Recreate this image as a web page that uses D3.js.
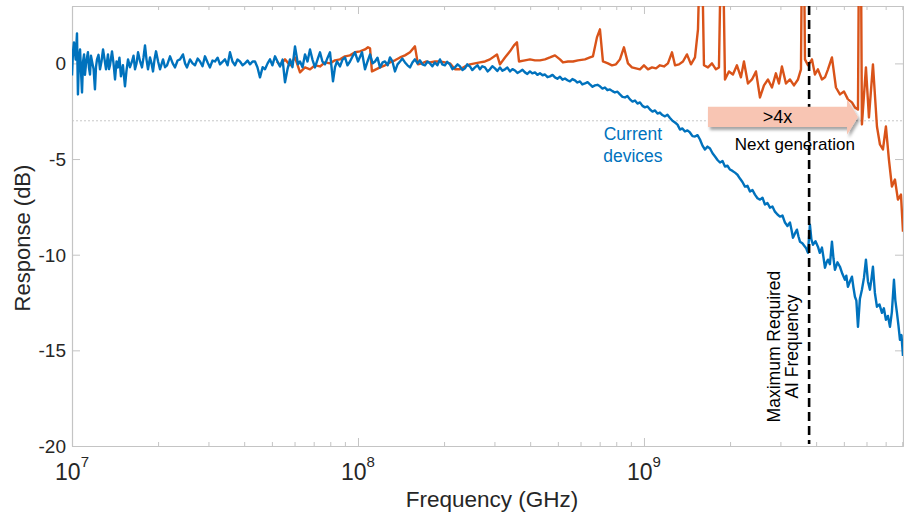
<!DOCTYPE html>
<html><head><meta charset="utf-8">
<script src="https://cdn.jsdelivr.net/npm/d3@7"></script>
<style>
html,body{margin:0;padding:0;background:#fff;}
svg{display:block;font-family:"Liberation Sans",Arial,Helvetica,sans-serif;}
</style></head><body>
<svg id="chart" width="904" height="519"></svg>
<script>
// ---------- data ----------
const xDomain = [1e7, 8.05e9];
const yDomain = [-20, 3];
const xTicks = [1e7, 1e8, 1e9];
const xTickBase = "10";
const xTickExponents = ["7", "8", "9"];
const xMinorTicks = [2e7,3e7,4e7,5e7,6e7,7e7,8e7,9e7,2e8,3e8,4e8,5e8,6e8,7e8,8e8,9e8,2e9,3e9,4e9,5e9,6e9,7e9,8e9];
const yTicks = [0, -5, -10, -15, -20];
const xLabel = "Frequency (GHz)";
const yLabel = "Response (dB)";

// Current devices (blue): [frequency Hz, response dB]
const currentDevices = [
[1.000e7,-0.63],[1.008e7,0.60],[1.016e7,1.10],[1.030e7,0.20],[1.041e7,1.57],[1.049e7,-1.62],[1.058e7,0.30],[1.067e7,0.73],
[1.075e7,-0.40],[1.084e7,-1.52],[1.093e7,0.10],[1.102e7,0.47],[1.110e7,-0.60],[1.119e7,-0.05],[1.128e7,0.30],[1.137e7,0.58],
[1.146e7,-0.20],[1.156e7,-0.58],[1.165e7,0.40],[1.175e7,0.10],[1.190e7,-0.30],[1.203e7,-1.36],[1.213e7,-0.20],[1.223e7,0.21],
[1.238e7,0.45],[1.253e7,-0.31],[1.268e7,0.10],[1.284e7,0.73],[1.300e7,0.20],[1.315e7,-0.31],[1.336e7,0.47],[1.347e7,-0.30],
[1.358e7,-0.10],[1.380e7,0.63],[1.397e7,0.00],[1.414e7,-0.84],[1.431e7,0.10],[1.448e7,-0.21],[1.465e7,0.30],[1.483e7,-0.68],
[1.507e7,-0.10],[1.532e7,-1.20],[1.550e7,-0.40],[1.570e7,0.21],[1.595e7,-0.20],[1.621e7,0.10],[1.641e7,0.40],[1.661e7,-0.31],
[1.681e7,0.00],[1.702e7,0.58],[1.730e7,0.10],[1.757e7,-0.21],[1.778e7,0.30],[1.800e7,0.94],[1.822e7,0.20],[1.844e7,-0.31],
[1.874e7,0.31],[1.897e7,0.00],[1.920e7,-0.42],[1.943e7,0.20],[1.967e7,0.63],[2.000e7,0.10],[2.031e7,-0.31],[2.081e7,0.21],
[2.115e7,-0.20],[2.149e7,-0.10],[2.202e7,0.37],[2.250e7,0.00],[2.292e7,-0.21],[2.340e7,0.15],[2.386e7,0.21],[2.444e7,0.47],
[2.485e7,0.00],[2.524e7,-0.21],[2.586e7,0.21],[2.640e7,0.00],[2.692e7,-0.10],[2.750e7,0.25],[2.803e7,0.10],[2.860e7,-0.15],
[2.917e7,0.37],[2.980e7,0.05],[3.037e7,-0.21],[3.100e7,0.15],[3.162e7,0.10],[3.230e7,0.30],[3.292e7,-0.05],[3.427e7,0.21],
[3.500e7,-0.10],[3.568e7,0.58],[3.640e7,0.10],[3.715e7,-0.10],[3.790e7,0.20],[3.868e7,0.10],[3.950e7,-0.10],[4.026e7,0.00],
[4.110e7,0.15],[4.192e7,-0.05],[4.280e7,0.10],[4.364e7,0.10],[4.450e7,-0.20],[4.543e7,-0.73],[4.640e7,-0.20],[4.730e7,-0.31],
[4.830e7,0.00],[4.924e7,0.21],[5.020e7,-0.10],[5.127e7,0.37],[5.230e7,0.10],[5.337e7,-0.16],[5.450e7,0.20],[5.557e7,-0.99],
[5.670e7,-0.30],[5.785e7,0.21],[5.900e7,-0.20],[6.023e7,0.89],[6.170e7,-0.05],[6.270e7,0.10],[6.400e7,-0.20],[6.527e7,0.47],
[6.660e7,0.10],[6.796e7,0.73],[6.930e7,0.20],[7.075e7,-0.21],[7.220e7,0.20],[7.365e7,0.58],[7.510e7,0.10],[7.668e7,-0.05],
[7.830e7,0.30],[7.983e7,0.58],[8.178e7,-0.94],[8.310e7,-0.20],[8.446e7,0.10],[8.652e7,-0.16],[8.830e7,0.20],[9.007e7,0.31],
[9.190e7,-0.10],[9.376e7,0.10],[9.560e7,0.35],[9.761e7,0.58],[1.000e8,0.10],[1.033e8,0.58],[1.058e8,-0.31],[1.080e8,0.10],
[1.102e8,0.47],[1.125e8,0.00],[1.147e8,0.10],[1.170e8,0.30],[1.194e8,-0.21],[1.220e8,0.05],[1.243e8,0.10],[1.270e8,-0.10],
[1.294e8,0.31],[1.320e8,0.10],[1.347e8,-0.42],[1.375e8,-0.05],[1.403e8,0.10],[1.430e8,0.25],[1.460e8,0.05],[1.490e8,-0.10],
[1.520e8,-0.21],[1.550e8,0.05],[1.582e8,0.21],[1.615e8,0.00],[1.647e8,0.16],[1.680e8,-0.05],[1.715e8,-0.10],[1.750e8,0.10],
[1.785e8,0.00],[1.820e8,-0.15],[1.858e8,0.05],[1.895e8,-0.10],[1.935e8,0.21],[1.970e8,-0.05],[2.014e8,-0.10],[2.050e8,0.08],
[2.097e8,-0.05],[2.140e8,-0.30],[2.183e8,-0.21],[2.230e8,-0.05],[2.273e8,-0.16],[2.320e8,-0.35],[2.366e8,-0.26],[2.410e8,-0.05],
[2.463e8,-0.16],[2.510e8,-0.35],[2.564e8,-0.21],[2.620e8,-0.10],[2.670e8,-0.31],[2.720e8,-0.15],[2.780e8,-0.21],[2.840e8,-0.42],
[2.893e8,-0.31],[2.950e8,-0.15],[3.013e8,-0.26],[3.070e8,-0.40],[3.137e8,-0.21],[3.200e8,-0.38],[3.266e8,-0.31],[3.330e8,-0.22],
[3.400e8,-0.42],[3.470e8,-0.30],[3.540e8,-0.37],[3.610e8,-0.50],[3.685e8,-0.42],[3.760e8,-0.33],[3.836e8,-0.47],[3.910e8,-0.55],
[3.994e8,-0.42],[4.070e8,-0.52],[4.158e8,-0.47],[4.240e8,-0.60],[4.329e8,-0.52],[4.420e8,-0.62],[4.506e8,-0.58],[4.600e8,-0.72],
[4.692e8,-0.68],[4.790e8,-0.60],[4.884e8,-0.73],[4.980e8,-0.80],[5.085e8,-0.70],[5.190e8,-0.85],[5.294e8,-0.79],[5.400e8,-0.88],
[5.511e8,-0.94],[5.620e8,-0.82],[5.737e8,-0.89],[5.850e8,-1.00],[5.973e8,-0.94],[6.090e8,-1.10],[6.218e8,-1.05],[6.350e8,-0.98],
[6.474e8,-1.10],[6.610e8,-1.22],[6.739e8,-1.15],[6.880e8,-1.12],[7.016e8,-1.20],[7.160e8,-1.32],[7.304e8,-1.26],[7.450e8,-1.40],
[7.604e8,-1.36],[7.760e8,-1.45],[7.916e8,-1.52],[8.080e8,-1.48],[8.241e8,-1.62],[8.410e8,-1.75],[8.580e8,-1.78],[8.750e8,-1.70],
[8.934e8,-1.88],[9.120e8,-2.00],[9.301e8,-1.94],[9.490e8,-2.10],[9.683e8,-2.04],[9.880e8,-2.22],[1.008e9,-2.30],[1.029e9,-2.25],
[1.050e9,-2.41],[1.071e9,-2.52],[1.093e9,-2.46],[1.115e9,-2.62],[1.137e9,-2.57],[1.160e9,-2.70],[1.184e9,-2.77],[1.208e9,-2.68],
[1.233e9,-2.85],[1.258e9,-3.00],[1.284e9,-3.09],[1.310e9,-3.20],[1.336e9,-3.46],[1.363e9,-3.40],[1.391e9,-3.56],[1.419e9,-3.50],
[1.448e9,-3.61],[1.478e9,-3.80],[1.508e9,-3.82],[1.539e9,-3.75],[1.570e9,-3.98],[1.602e9,-4.30],[1.634e9,-4.50],[1.668e9,-4.35],
[1.702e9,-4.45],[1.737e9,-4.70],[1.772e9,-4.87],[1.808e9,-5.05],[1.844e9,-5.18],[1.882e9,-5.10],[1.920e9,-5.39],[1.959e9,-5.35],
[1.999e9,-5.55],[2.040e9,-5.62],[2.081e9,-5.71],[2.123e9,-5.82],[2.166e9,-6.02],[2.210e9,-6.20],[2.255e9,-6.44],[2.301e9,-6.40],
[2.348e9,-6.70],[2.396e9,-6.62],[2.444e9,-6.86],[2.494e9,-7.05],[2.545e9,-7.12],[2.597e9,-7.02],[2.649e9,-7.38],[2.703e9,-7.30],
[2.758e9,-7.54],[2.814e9,-7.48],[2.871e9,-7.75],[2.930e9,-7.90],[2.989e9,-8.01],[3.050e9,-7.95],[3.112e9,-8.32],[3.175e9,-8.50],
[3.240e9,-8.32],[3.280e9,-8.70],[3.319e9,-9.11],[3.370e9,-8.90],[3.428e9,-8.69],[3.470e9,-9.05],[3.512e9,-9.32],[3.580e9,-9.40],
[3.656e9,-9.58],[3.700e9,-9.70],[3.745e9,-9.90],[3.805e9,-8.43],[3.850e9,-9.20],[3.898e9,-9.48],[3.980e9,-9.30],[4.058e9,-9.58],
[4.120e9,-9.90],[4.192e9,-9.63],[4.240e9,-10.10],[4.295e9,-10.68],[4.350e9,-10.40],[4.400e9,-10.26],[4.470e9,-10.50],[4.543e9,-9.32],
[4.600e9,-10.20],[4.654e9,-10.79],[4.750e9,-10.40],[4.845e9,-10.63],[4.940e9,-11.00],[5.044e9,-11.31],[5.100e9,-11.10],[5.167e9,-11.68],
[5.250e9,-11.40],[5.337e9,-11.15],[5.400e9,-11.70],[5.467e9,-12.20],[5.530e9,-12.40],[5.602e9,-13.77],[5.690e9,-12.30],[5.783e9,-11.83],
[5.880e9,-11.20],[5.973e9,-10.26],[6.070e9,-11.40],[6.168e9,-11.83],[6.240e9,-11.30],[6.320e9,-10.63],[6.420e9,-12.00],[6.527e9,-12.72],
[6.660e9,-12.60],[6.796e9,-13.04],[6.900e9,-12.80],[7.016e9,-13.40],[7.130e9,-13.20],[7.248e9,-13.77],[7.360e9,-13.00],[7.485e9,-11.31],
[7.570e9,-12.40],[7.668e9,-13.04],[7.760e9,-13.70],[7.856e9,-14.45],[7.950e9,-14.20],[8.049e9,-15.29]
];

// Next generation (orange): [frequency Hz, response dB]
const nextGeneration = [
[5.21e7,0.10],[5.337e7,-0.10],[5.557e7,0.21],[5.785e7,-0.10],[6.023e7,0.31],[6.270e7,-0.47],[6.527e7,-0.21],
[6.796e7,-0.31],[7.075e7,-0.10],[7.365e7,-0.16],[7.668e7,0.05],[7.983e7,0.00],[8.31e7,0.16],[8.652e7,0.21],
[9.007e7,0.37],[9.376e7,0.42],[9.761e7,0.58],[1.016e8,0.63],[1.058e8,0.73],[1.084e8,0.84],[1.102e8,0.79],
[1.119e8,-0.42],[1.156e8,-0.31],[1.194e8,-0.21],[1.243e8,-0.10],[1.294e8,0.05],[1.347e8,0.16],[1.403e8,0.31],
[1.460e8,0.42],[1.520e8,0.58],[1.582e8,0.89],[1.621e8,-0.05],[1.674e8,0.00],[1.729e8,0.10],[1.785e8,0.05],
[1.858e8,0.10],[1.935e8,0.10],[2.014e8,0.05],[2.097e8,0.00],[2.183e8,-0.31],[2.273e8,-0.31],[2.366e8,-0.16],
[2.463e8,-0.05],[2.564e8,0.00],[2.670e8,0.05],[2.780e8,0.10],[2.893e8,0.21],[3.062e8,0.47],[3.137e8,-0.05],
[3.266e8,0.31],[3.400e8,0.63],[3.512e8,0.94],[3.597e8,1.10],[3.656e8,0.10],[3.836e8,0.16],[3.994e8,0.21],
[4.158e8,0.16],[4.329e8,0.16],[4.506e8,0.21],[4.692e8,0.31],[4.884e8,0.42],[5.085e8,0.21],[5.21e8,0.05],
[5.424e8,0.10],[5.647e8,0.10],[5.878e8,0.16],[6.218e8,0.21],[6.474e8,0.31],[6.632e8,0.37],[6.849e8,1.36],
[7.016e8,1.78],[7.187e8,0.10],[7.483e8,0.00],[7.728e8,-0.10],[7.983e8,-0.05],[8.241e8,0.21],[8.511e8,0.84],
[8.791e8,0.00],[9.078e8,-0.21],[9.376e8,-0.26],[9.683e8,-0.31],[1.000e9,-0.10],[1.033e9,-0.31],[1.067e9,-0.21],
[1.102e9,-0.26],[1.137e9,-0.10],[1.175e9,-0.16],[1.213e9,0.00],[1.253e9,0.58],[1.284e9,-0.10],[1.326e9,-0.05],
[1.369e9,0.10],[1.414e9,0.47],[1.460e9,-0.05],[1.508e9,0.31],[1.545e9,1.78],[1.570e9,6.0],[1.595e9,6.0],
[1.621e9,-0.10],[1.674e9,-0.21],[1.729e9,0.00],[1.785e9,-0.31],[1.829e9,-0.21],[1.859e9,6.0],[1.889e9,6.0],
[1.920e9,-0.84],[1.982e9,-0.42],[2.047e9,-0.58],[2.114e9,-0.10],[2.183e9,-0.73],[2.237e9,0.10],[2.310e9,-1.05],
[2.386e9,-0.84],[2.464e9,-0.42],[2.545e9,-1.78],[2.628e9,-1.15],[2.714e9,-0.84],[2.803e9,-1.26],[2.893e9,-0.52],
[2.965e9,-1.05],[3.037e9,-0.16],[3.137e9,-1.05],[3.240e9,-0.84],[3.346e9,-1.15],[3.456e9,-0.84],[3.540e9,-0.31],
[3.568e9,6.0],[3.626e9,6.0],[3.656e9,0.21],[3.745e9,-0.10],[3.868e9,0.21],[3.961e9,-0.58],[4.058e9,-0.31],
[4.192e9,-0.84],[4.295e9,-0.73],[4.400e9,-0.31],[4.543e9,0.31],[4.692e9,-1.26],[4.845e9,-1.62],[5.005e9,-1.47],
[5.167e9,-1.88],[5.337e9,-2.04],[5.467e9,-2.30],[5.602e9,-2.41],[5.647e9,6.0],[5.737e9,6.0],[5.783e9,-3.19],
[5.973e9,-0.21],[6.119e9,-2.83],[6.320e9,-0.05],[6.527e9,-3.30],[6.687e9,-4.24],[6.849e9,-4.50],[7.016e9,-3.30],
[7.187e9,-5.03],[7.363e9,-6.44],[7.544e9,-6.07],[7.728e9,-7.12],[7.919e9,-6.86],[8.049e9,-8.80]
];

// annotations (data units)
const maxAIFrequency = 3.78e9;
const referenceLevelDb = -3;
const arrowFreqs = [1.674e9, 5.13e9, 5.60e9];   // body start, head start, tip
const arrowCenterDb = -2.8;
const arrowBodyHalfDb = 0.53;
const arrowHeadHalfDb = 0.93;
const arrowLabel = ">4x";
const nextGenLabel = "Next generation";
const nextGenLabelPos = [3.37e9, -4.55];
const currentLabelLines = ["Current", "devices"];
const currentLabelPos = [9.15e8, -4.03, -5.13];
const maxAILabelLines = ["Maximum Required", "AI Frequency"];
const maxAILabelDb = -14.8;

// ---------- drawing ----------
const plot = {left: 72, right: 903, top: 6, bottom: 446};
const svg = d3.select("#chart");
const x = d3.scaleLog().domain(xDomain).range([plot.left, plot.right]);
const y = d3.scaleLinear().domain(yDomain).range([plot.bottom, plot.top]);

const defs = svg.append("defs");
defs.append("clipPath").attr("id", "plotClip").append("rect")
  .attr("x", plot.left).attr("y", plot.top)
  .attr("width", plot.right - plot.left).attr("height", plot.bottom - plot.top);
const filt = defs.append("filter").attr("id", "shadow")
  .attr("x", "-10%").attr("y", "-40%").attr("width", "130%").attr("height", "200%");
filt.append("feDropShadow").attr("dx", 2).attr("dy", 3).attr("stdDeviation", 1.6)
  .attr("flood-color", "#000").attr("flood-opacity", 0.35);

const axisColor = "#c4c4c4";
const textColor = "#262626";

// reference -3 dB dotted line
svg.append("line")
  .attr("x1", x(xDomain[0])).attr("x2", x(xDomain[1]))
  .attr("y1", y(referenceLevelDb)).attr("y2", y(referenceLevelDb))
  .attr("stroke", "#c8c8c8").attr("stroke-width", 1).attr("stroke-dasharray", "2,2");

// axes
function styleAxis(g) {
  g.select(".domain").attr("stroke", axisColor).attr("stroke-width", 1.2);
  g.selectAll(".tick line").attr("stroke", axisColor).attr("stroke-width", 1);
  g.selectAll(".tick text").remove();
}
svg.append("g").attr("transform", `translate(0,${plot.bottom})`)
  .call(d3.axisBottom(x).tickValues(xTicks).tickSize(-8).tickSizeOuter(0).tickFormat(""))
  .call(styleAxis);
svg.append("g").attr("transform", `translate(0,${plot.bottom})`)
  .call(d3.axisBottom(x).tickValues(xMinorTicks).tickSize(-4).tickSizeOuter(0).tickFormat(""))
  .call(styleAxis);
svg.append("g").attr("transform", `translate(0,${plot.top})`)
  .call(d3.axisTop(x).tickValues(xTicks).tickSize(-8).tickSizeOuter(0).tickFormat(""))
  .call(styleAxis);
svg.append("g").attr("transform", `translate(0,${plot.top})`)
  .call(d3.axisTop(x).tickValues(xMinorTicks).tickSize(-4).tickSizeOuter(0).tickFormat(""))
  .call(styleAxis);
svg.append("g").attr("transform", `translate(${plot.left},0)`)
  .call(d3.axisLeft(y).tickValues(yTicks).tickSize(-8).tickSizeOuter(0).tickFormat(""))
  .call(styleAxis);
svg.append("g").attr("transform", `translate(${plot.right},0)`)
  .call(d3.axisRight(y).tickValues(yTicks).tickSize(-8).tickSizeOuter(0).tickFormat(""))
  .call(styleAxis);

// tick labels
svg.append("g").selectAll("text").data(yTicks).join("text")
  .attr("x", plot.left - 6).attr("y", d => y(d)).attr("dy", "0.36em")
  .attr("text-anchor", "end").attr("font-size", 19).attr("fill", textColor)
  .text(d => String(d));
const xl = svg.append("g").selectAll("text").data(xTicks).join("text")
  .attr("x", d => x(d)).attr("y", 480)
  .attr("text-anchor", "middle").attr("font-size", 23).attr("fill", textColor);
xl.append("tspan").text(xTickBase);
xl.append("tspan").attr("dy", -13).attr("font-size", 15).text((d, i) => xTickExponents[i]);

// axis titles
svg.append("text").attr("x", 492).attr("y", 507)
  .attr("text-anchor", "middle").attr("font-size", 22.5).attr("fill", textColor)
  .text(xLabel);
svg.append("text").attr("transform", `translate(30,238) rotate(-90)`)
  .attr("text-anchor", "middle").attr("font-size", 22).attr("fill", textColor)
  .text(yLabel);

// series
const line = d3.line().x(d => x(d[0])).y(d => y(d[1]));
const lines = svg.append("g").attr("clip-path", "url(#plotClip)");
lines.append("path").datum(nextGeneration).attr("d", line)
  .attr("fill", "none").attr("stroke", "#d95319").attr("stroke-width", 2.4).attr("stroke-linejoin", "round");
lines.append("path").datum(currentDevices).attr("d", line)
  .attr("fill", "none").attr("stroke", "#0072bd").attr("stroke-width", 2.4).attr("stroke-linejoin", "round");

// max AI frequency dashed line
svg.append("line")
  .attr("x1", x(maxAIFrequency)).attr("x2", x(maxAIFrequency))
  .attr("y1", y(yDomain[1])).attr("y2", y(-19.9))
  .attr("stroke", "#000").attr("stroke-width", 2.6).attr("stroke-dasharray", "9,5");

// arrow
const ax0 = x(arrowFreqs[0]), ax1 = x(arrowFreqs[1]), ax2 = x(arrowFreqs[2]);
const ac = y(arrowCenterDb);
const bT = y(arrowCenterDb + arrowBodyHalfDb), bB = y(arrowCenterDb - arrowBodyHalfDb);
const hT = y(arrowCenterDb + arrowHeadHalfDb), hB = y(arrowCenterDb - arrowHeadHalfDb);
svg.append("path")
  .attr("d", `M${ax0},${bT}L${ax1},${bT}L${ax1},${hT}L${ax2},${ac}L${ax1},${hB}L${ax1},${bB}L${ax0},${bB}Z`)
  .attr("fill", "#f8c5b3").attr("filter", "url(#shadow)");
svg.append("text").attr("x", (ax0 + ax1) / 2).attr("y", ac).attr("dy", "0.36em")
  .attr("text-anchor", "middle").attr("font-size", 18).attr("fill", "#000").text(arrowLabel);
svg.append("text").attr("x", x(nextGenLabelPos[0])).attr("y", y(nextGenLabelPos[1]))
  .attr("text-anchor", "middle").attr("font-size", 17).attr("fill", "#000").text(nextGenLabel);

// current devices label
svg.append("g").selectAll("text").data(currentLabelLines).join("text")
  .attr("x", x(currentLabelPos[0])).attr("y", (d, i) => y(currentLabelPos[1 + i]))
  .attr("text-anchor", "middle").attr("font-size", 17.5).attr("fill", "#0072bd").text(d => d);

// rotated max AI label
const mx = x(maxAIFrequency);
svg.append("g").selectAll("text").data(maxAILabelLines).join("text")
  .attr("transform", (d, i) => `translate(${mx - 29 + i * 18},${y(maxAILabelDb)}) rotate(-90)`)
  .attr("text-anchor", "middle").attr("font-size", 17.5).attr("fill", "#000").text(d => d);
</script>
</body></html>
